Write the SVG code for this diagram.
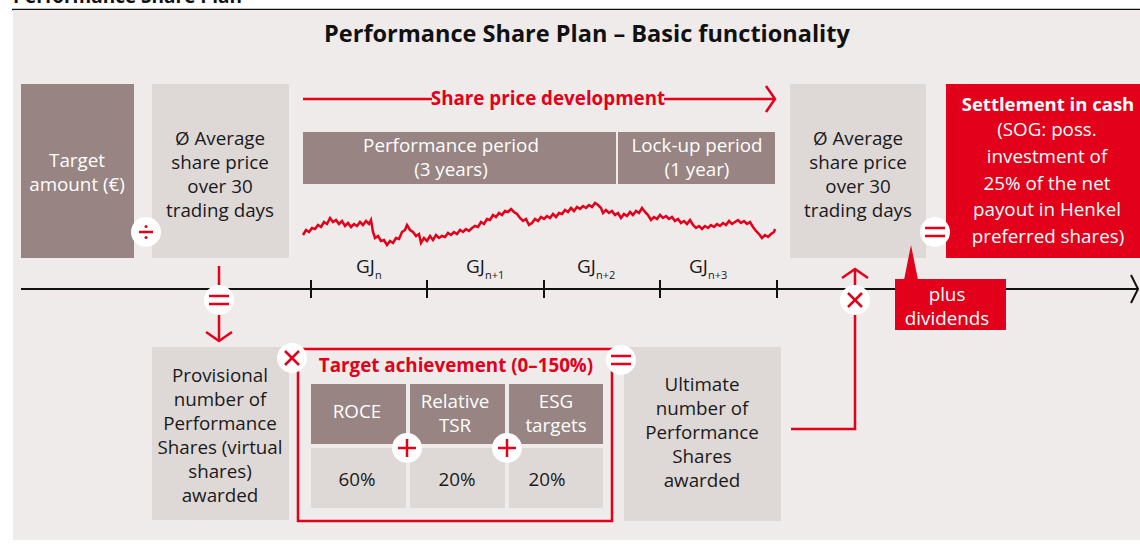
<svg xmlns="http://www.w3.org/2000/svg" width="1140" height="546" viewBox="0 0 1140 546">
<style>
text{font-family:"Open Sans","Noto Sans","Liberation Sans",sans-serif;}
.dark{fill:#978483;}
.light{fill:#DED8D7;}
.red{fill:#E2001A;}
.wt{fill:#ffffff;font-size:18.8px;text-anchor:middle;}
.bt{fill:#1a1a1a;font-size:18.8px;text-anchor:middle;}
.rl{stroke:#E2001A;stroke-width:2.5;fill:none;}
.sym{stroke:#E2001A;stroke-width:2.5;fill:none;}
.circ{fill:#ffffff;}
.gj{fill:#1a1a1a;font-size:19px;}
.sub{fill:#1a1a1a;font-size:11px;}
.rb{font-size:18.8px;font-weight:bold;fill:#E2001A;text-anchor:middle;}
</style>
<defs>
<marker id="ra" viewBox="-2 -16 14 32" markerWidth="14" markerHeight="32" refX="9" refY="0" orient="auto" markerUnits="userSpaceOnUse">
<path d="M0,-13 L9,0 L0,13" fill="none" stroke="#E2001A" stroke-width="2.5"/>
</marker>
<marker id="ka" viewBox="-2 -16 12 32" markerWidth="12" markerHeight="32" refX="7" refY="0" orient="auto" markerUnits="userSpaceOnUse">
<path d="M0,-14 L7,0 L0,14" fill="none" stroke="#111" stroke-width="2"/>
</marker>
</defs>

<text x="13" y="3" font-size="19" font-weight="bold" fill="#111">Performance Share Plan</text>
<line x1="12" y1="9.5" x2="1140" y2="9.5" stroke="#111" stroke-width="1.5"/>
<rect x="13" y="10" width="1127" height="530" fill="#EEEBEA"/>

<text x="587" y="42" font-size="23.5" font-weight="bold" fill="#111" text-anchor="middle">Performance Share Plan – Basic functionality</text>

<g id="target-amount">
<rect x="21" y="84" width="113" height="174" class="dark"/>
<text class="wt" x="77" y="167">Target</text>
<text class="wt" x="77" y="191">amount (€)</text>
</g>

<g id="avg-price-1">
<rect x="152" y="84" width="137" height="174" class="light"/>
<text class="bt" x="220" y="145">Ø Average</text>
<text class="bt" x="220" y="169">share price</text>
<text class="bt" x="220" y="193">over 30</text>
<text class="bt" x="220" y="217">trading days</text>
</g>

<g id="periods">
<rect x="303" y="132" width="313" height="52" class="dark"/>
<text class="wt" x="451" y="152">Performance period</text>
<text class="wt" x="451" y="176">(3 years)</text>
<rect x="618" y="132" width="157" height="52" class="dark"/>
<text class="wt" x="697" y="152">Lock-up period</text>
<text class="wt" x="697" y="176">(1 year)</text>
</g>

<g id="share-price">
<path class="rl" stroke-width="1.4" d="M303,235 L306,230 309,232 312,228 315,229 318,225 321,227 324,222 327,224 330,218 333,222 336,220 339,224 342,221 345,226 348,223 351,227 354,224 357,226 360,222 363,225 366,221 369,224 371,220 373,232 375,238 378,236 381,241 384,240 387,245 390,241 393,243 396,238 399,239 402,232 405,230 407,225 410,230 413,232 416,236 419,234 421,243 424,238 427,241 430,236 433,240 436,235 439,238 442,236 445,237 448,233 451,235 454,232 457,234 460,230 463,232 466,229 469,231 472,228 475,226 478,227 481,222 484,224 487,219 490,220 493,215 496,217 499,213 502,215 505,211 508,212 511,209 514,212 517,214 520,218 523,221 526,219 529,225 532,223 535,219 538,221 541,217 544,219 547,216 550,218 553,214 556,217 559,213 562,214 565,210 568,212 571,208 574,211 577,207 580,209 583,206 586,208 589,205 592,207 595,203 598,205 601,208 603,213 606,210 609,213 612,211 615,215 618,213 621,218 624,214 627,216 630,212 633,215 636,211 639,213 642,208 645,212 648,215 651,220 654,217 657,219 660,215 663,218 666,216 669,219 672,217 675,221 678,219 681,223 684,221 687,224 690,220 693,225 696,228 699,226 702,229 705,226 708,228 711,225 714,227 717,224 720,226 723,223 726,225 729,221 732,224 735,222 738,220 741,223 744,221 747,224 750,222 753,227 756,231 759,234 762,238 765,235 768,237 771,234 774,232 775,229"/>
</g>

<g id="avg-price-2">
<rect x="790" y="84" width="136" height="174" class="light"/>
<text class="bt" x="858" y="145">Ø Average</text>
<text class="bt" x="858" y="169">share price</text>
<text class="bt" x="858" y="193">over 30</text>
<text class="bt" x="858" y="217">trading days</text>
</g>

<g id="settlement">
<rect x="946" y="84" width="194" height="174" class="red"/>
<text x="1048" y="111" font-size="18.5" font-weight="bold" fill="#fff" text-anchor="middle">Settlement in cash</text>
<text class="wt" x="1047" y="136">(SOG: poss.</text>
<text class="wt" x="1047" y="163">investment of</text>
<text class="wt" x="1047" y="190">25% of the net</text>
<text class="wt" x="1047" y="216">payout in Henkel</text>
<text class="wt" x="1048" y="243">preferred shares)</text>
</g>

<g id="connectors">
<line x1="303" y1="99" x2="432" y2="99" class="rl"/>
<line x1="664" y1="99" x2="775" y2="99" class="rl" marker-end="url(#ra)"/>
<line x1="21" y1="289" x2="1138" y2="289" stroke="#111" stroke-width="2" marker-end="url(#ka)"/>
<g stroke="#111" stroke-width="2">
<line x1="311" y1="280" x2="311" y2="298"/>
<line x1="427" y1="280" x2="427" y2="298"/>
<line x1="544" y1="280" x2="544" y2="298"/>
<line x1="660" y1="280" x2="660" y2="298"/>
<line x1="777" y1="280" x2="777" y2="298"/>
</g>
<line x1="219" y1="266" x2="219" y2="341" class="rl" marker-end="url(#ra)"/>
<polyline points="791,429 855,429 855,269" class="rl" marker-end="url(#ra)"/>
</g>

<g id="share-price-label">
<text class="rb" x="548" y="105">Share price development</text>
</g>

<g id="years">
<text class="gj" x="356" y="273">GJ<tspan class="sub" dy="6">n</tspan></text>
<text class="gj" x="466" y="273">GJ<tspan class="sub" dy="6">n+1</tspan></text>
<text class="gj" x="577" y="273">GJ<tspan class="sub" dy="6">n+2</tspan></text>
<text class="gj" x="689" y="273">GJ<tspan class="sub" dy="6">n+3</tspan></text>
</g>

<g id="dividends">
<rect x="895" y="279" width="111" height="51" class="red"/>
<polygon points="904,280 911,245 918,280" class="red"/>
<text class="wt" x="947" y="301">plus</text>
<text class="wt" x="947" y="325">dividends</text>
</g>

<g id="provisional">
<rect x="152" y="347" width="137" height="173" class="light"/>
<text class="bt" x="220" y="382">Provisional</text>
<text class="bt" x="220" y="406">number of</text>
<text class="bt" x="220" y="430">Performance</text>
<text class="bt" x="220" y="454">Shares (virtual</text>
<text class="bt" x="220" y="478">shares)</text>
<text class="bt" x="220" y="502">awarded</text>
</g>

<g id="target-achievement">
<rect x="298" y="349" width="314" height="172" fill="none" stroke="#E2001A" stroke-width="2.5"/>
<text class="rb" x="456" y="372">Target achievement (0–150%)</text>
<rect x="311" y="384" width="95" height="60" class="dark"/>
<rect x="410" y="384" width="95" height="60" class="dark"/>
<rect x="509" y="384" width="94" height="60" class="dark"/>
<rect x="311" y="448" width="95" height="60" class="light"/>
<rect x="410" y="448" width="95" height="60" class="light"/>
<rect x="509" y="448" width="94" height="60" class="light"/>
<text class="wt" x="357" y="418">ROCE</text>
<text class="wt" x="455" y="408">Relative</text>
<text class="wt" x="455" y="432">TSR</text>
<text class="wt" x="556" y="408">ESG</text>
<text class="wt" x="556" y="432">targets</text>
<text class="bt" x="357" y="486">60%</text>
<text class="bt" x="457" y="486">20%</text>
<text class="bt" x="547" y="486">20%</text>
</g>

<g id="ultimate">
<rect x="624" y="347" width="157" height="174" class="light"/>
<text class="bt" x="702" y="391">Ultimate</text>
<text class="bt" x="702" y="415">number of</text>
<text class="bt" x="702" y="439">Performance</text>
<text class="bt" x="702" y="463">Shares</text>
<text class="bt" x="702" y="487">awarded</text>
</g>

<g id="op-divide">
<circle cx="146" cy="232" r="15" class="circ"/>
<line x1="139" y1="232" x2="153" y2="232" class="sym" stroke-width="2"/>
<circle cx="146" cy="226.5" r="1.5" class="red"/>
<circle cx="146" cy="237.5" r="1.5" class="red"/>
</g>
<g id="op-equals-1">
<circle cx="219" cy="300" r="15" class="circ"/>
<line x1="209" y1="296" x2="229" y2="296" class="sym"/>
<line x1="209" y1="304" x2="229" y2="304" class="sym"/>
</g>
<g id="op-times-1">
<circle cx="292" cy="358" r="15" class="circ"/>
<line x1="285" y1="351" x2="299" y2="365" class="sym"/>
<line x1="299" y1="351" x2="285" y2="365" class="sym"/>
</g>
<g id="op-plus-1">
<circle cx="407" cy="448" r="15" class="circ"/>
<line x1="398" y1="448" x2="416" y2="448" class="sym"/>
<line x1="407" y1="439" x2="407" y2="457" class="sym"/>
</g>
<g id="op-plus-2">
<circle cx="507" cy="448" r="15" class="circ"/>
<line x1="498" y1="448" x2="516" y2="448" class="sym"/>
<line x1="507" y1="439" x2="507" y2="457" class="sym"/>
</g>
<g id="op-equals-2">
<circle cx="621" cy="360" r="15" class="circ"/>
<line x1="611" y1="356" x2="631" y2="356" class="sym"/>
<line x1="611" y1="364" x2="631" y2="364" class="sym"/>
</g>
<g id="op-times-2">
<circle cx="855" cy="300" r="15" class="circ"/>
<line x1="848" y1="293" x2="862" y2="307" class="sym"/>
<line x1="862" y1="293" x2="848" y2="307" class="sym"/>
</g>
<g id="op-equals-3">
<circle cx="935" cy="232" r="15" class="circ"/>
<line x1="925" y1="228" x2="945" y2="228" class="sym"/>
<line x1="925" y1="236" x2="945" y2="236" class="sym"/>
</g>
</svg>
